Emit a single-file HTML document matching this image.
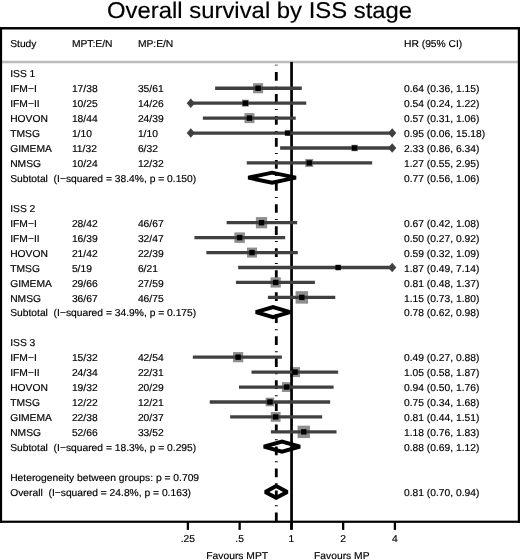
<!DOCTYPE html>
<html><head><meta charset="utf-8"><title>Overall survival by ISS stage</title>
<style>
html,body{margin:0;padding:0;background:#fff;}
body{width:520px;height:560px;overflow:hidden;}
svg{display:block;font-family:"Liberation Sans",Arial,Helvetica,sans-serif;font-size:10.0px;fill:#000;text-rendering:geometricPrecision;}
text{stroke:#000;stroke-width:0.17px;}
</style></head><body>
<svg width="520" height="560" viewBox="0 0 520 560">
<rect width="520" height="560" fill="#fff"/>
<text transform="scale(1.047,1)" x="247.95" y="17.85" text-anchor="middle" font-size="22.8" fill="#000">Overall survival by ISS stage</text>
<line x1="2" y1="61.95" x2="518" y2="61.95" stroke="#bcbcbc" stroke-width="2.5"/>
<g stroke="#000" stroke-width="2.8" stroke-dasharray="8.7 6.15 1 6.175"><line x1="276.3" y1="72" x2="276.3" y2="521"/></g>
<rect x="274.9" y="64.6" width="2.8" height="1" fill="#555"/>
<g fill="#8e8e8e">
<rect x="253.03" y="83.19" width="10.1" height="10.1"/>
<rect x="241.90" y="99.68" width="7" height="7"/>
<rect x="244.43" y="113.12" width="10" height="10"/>
<rect x="351.30" y="144.75" width="6.5" height="6.5"/>
<rect x="305.24" y="158.94" width="8" height="8"/>
<rect x="255.88" y="217.08" width="11.25" height="11.25"/>
<rect x="234.40" y="232.39" width="10.5" height="10.5"/>
<rect x="247.01" y="247.58" width="10" height="10"/>
<rect x="270.54" y="277.33" width="10.25" height="10.25"/>
<rect x="295.58" y="291.15" width="12.5" height="12.5"/>
<rect x="233.04" y="352.06" width="10.2" height="10.2"/>
<rect x="290.04" y="367.10" width="10" height="10"/>
<rect x="281.88" y="382.14" width="9.8" height="9.8"/>
<rect x="265.62" y="397.68" width="8.6" height="8.6"/>
<rect x="270.77" y="412.02" width="9.8" height="9.8"/>
<rect x="297.56" y="425.66" width="12.4" height="12.4"/>
</g>
<line x1="291.55" y1="62" x2="291.55" y2="529.6" stroke="#000" stroke-width="2.7"/>
<g stroke="#404040" stroke-width="3.3">
<line x1="215.12" y1="88.24" x2="301.83" y2="88.24"/>
<line x1="190.80" y1="103.18" x2="306.25" y2="103.18"/>
<line x1="202.87" y1="118.12" x2="295.75" y2="118.12"/>
<line x1="190.80" y1="133.06" x2="392.20" y2="133.06"/>
<line x1="280.14" y1="148.00" x2="392.20" y2="148.00"/>
<line x1="246.77" y1="162.94" x2="372.17" y2="162.94"/>
<line x1="226.63" y1="222.70" x2="297.15" y2="222.70"/>
<line x1="194.44" y1="237.64" x2="285.17" y2="237.64"/>
<line x1="206.33" y1="252.58" x2="297.83" y2="252.58"/>
<line x1="238.14" y1="267.52" x2="392.20" y2="267.52"/>
<line x1="235.95" y1="282.46" x2="314.90" y2="282.46"/>
<line x1="267.90" y1="297.40" x2="335.28" y2="297.40"/>
<line x1="192.84" y1="357.16" x2="281.86" y2="357.16"/>
<line x1="251.52" y1="372.10" x2="338.13" y2="372.10"/>
<line x1="239.01" y1="387.04" x2="333.61" y2="387.04"/>
<line x1="209.75" y1="401.98" x2="330.13" y2="401.98"/>
<line x1="230.11" y1="416.92" x2="322.17" y2="416.92"/>
<line x1="270.91" y1="431.86" x2="336.52" y2="431.86"/>
</g>
<g fill="#404040">
<polygon points="186.70,103.18 190.80,98.38 194.90,103.18 190.80,107.98"/>
<polygon points="186.70,133.06 190.80,128.26 194.90,133.06 190.80,137.86"/>
<polygon points="388.10,133.06 392.20,128.26 396.30,133.06 392.20,137.86"/>
<polygon points="388.10,148.00 392.20,143.20 396.30,148.00 392.20,152.80"/>
<polygon points="388.10,267.52 392.20,262.72 396.30,267.52 392.20,272.32"/>
</g>
<g fill="#000">
<rect x="255.38" y="85.54" width="5.4" height="5.4"/>
<rect x="242.70" y="100.48" width="5.4" height="5.4"/>
<rect x="246.73" y="115.42" width="5.4" height="5.4"/>
<rect x="284.87" y="130.36" width="5.4" height="5.4"/>
<rect x="351.85" y="145.30" width="5.4" height="5.4"/>
<rect x="306.54" y="160.24" width="5.4" height="5.4"/>
<rect x="258.80" y="220.00" width="5.4" height="5.4"/>
<rect x="236.95" y="234.94" width="5.4" height="5.4"/>
<rect x="249.31" y="249.88" width="5.4" height="5.4"/>
<rect x="335.43" y="264.82" width="5.4" height="5.4"/>
<rect x="272.97" y="279.76" width="5.4" height="5.4"/>
<rect x="299.13" y="294.70" width="5.4" height="5.4"/>
<rect x="235.44" y="354.46" width="5.4" height="5.4"/>
<rect x="292.34" y="369.40" width="5.4" height="5.4"/>
<rect x="284.08" y="384.34" width="5.4" height="5.4"/>
<rect x="267.22" y="399.28" width="5.4" height="5.4"/>
<rect x="272.97" y="414.22" width="5.4" height="5.4"/>
<rect x="301.06" y="429.16" width="5.4" height="5.4"/>
</g>
<polygon points="248.26,177.68 272.04,172.63 295.90,177.68 272.04,182.73" fill="none" stroke="#000" stroke-width="3.9" stroke-linejoin="miter" stroke-miterlimit="1.8"/>
<polygon points="255.86,312.14 273.00,307.09 290.04,312.14 273.00,317.19" fill="none" stroke="#000" stroke-width="3.9" stroke-linejoin="miter" stroke-miterlimit="1.8"/>
<polygon points="263.85,446.60 282.01,441.55 300.01,446.60 282.01,451.65" fill="none" stroke="#000" stroke-width="3.9" stroke-linejoin="miter" stroke-miterlimit="1.8"/>
<polygon points="265.27,491.92 276.17,486.02 287.28,491.92 276.17,497.82" fill="none" stroke="#000" stroke-width="3.9" stroke-linejoin="miter" stroke-miterlimit="1.8"/>
<rect x="0" y="27.05" width="520" height="2.45" fill="#000"/>
<rect x="0" y="520.65" width="520" height="2.2" fill="#000"/>
<rect x="0" y="27.05" width="2.1" height="495.8" fill="#000"/>
<rect x="517.8" y="27.05" width="2.2" height="495.8" fill="#000"/>
<line x1="187.90" y1="521" x2="187.90" y2="529.9" stroke="#000" stroke-width="2.3"/>
<line x1="239.65" y1="521" x2="239.65" y2="529.9" stroke="#000" stroke-width="2.3"/>
<line x1="291.40" y1="521" x2="291.40" y2="529.9" stroke="#000" stroke-width="2.3"/>
<line x1="343.15" y1="521" x2="343.15" y2="529.9" stroke="#000" stroke-width="2.3"/>
<line x1="394.90" y1="521" x2="394.90" y2="529.9" stroke="#000" stroke-width="2.3"/>
<g transform="scale(1.028,1)">
<text x="9.92" y="47.4">Study</text>
<text x="69.94" y="47.4">MPT:E/N</text>
<text x="134.14" y="47.4">MP:E/N</text>
<text x="393.00" y="47.4">HR (95% CI)</text>
<text x="9.92" y="77.40">ISS 1</text>
<text x="9.92" y="92.34">IFM−I</text>
<text x="69.94" y="92.34">17/38</text>
<text x="134.14" y="92.34">35/61</text>
<text x="393.00" y="92.34">0.64 (0.36, 1.15)</text>
<text x="9.92" y="107.28">IFM−II</text>
<text x="69.94" y="107.28">10/25</text>
<text x="134.14" y="107.28">14/26</text>
<text x="393.00" y="107.28">0.54 (0.24, 1.22)</text>
<text x="9.92" y="122.22">HOVON</text>
<text x="69.94" y="122.22">18/44</text>
<text x="134.14" y="122.22">24/39</text>
<text x="393.00" y="122.22">0.57 (0.31, 1.06)</text>
<text x="9.92" y="137.16">TMSG</text>
<text x="69.94" y="137.16">1/10</text>
<text x="134.14" y="137.16">1/10</text>
<text x="393.00" y="137.16">0.95 (0.06, 15.18)</text>
<text x="9.92" y="152.10">GIMEMA</text>
<text x="69.94" y="152.10">11/32</text>
<text x="134.14" y="152.10">6/32</text>
<text x="393.00" y="152.10">2.33 (0.86, 6.34)</text>
<text x="9.92" y="167.04">NMSG</text>
<text x="69.94" y="167.04">10/24</text>
<text x="134.14" y="167.04">12/32</text>
<text x="393.00" y="167.04">1.27 (0.55, 2.95)</text>
<text x="9.92" y="181.98" xml:space="preserve">Subtotal  (I−squared = 38.4%, p = 0.150)</text>
<text x="393.00" y="181.98">0.77 (0.56, 1.06)</text>
<text x="9.92" y="211.86">ISS 2</text>
<text x="9.92" y="226.80">IFM−I</text>
<text x="69.94" y="226.80">28/42</text>
<text x="134.14" y="226.80">46/67</text>
<text x="393.00" y="226.80">0.67 (0.42, 1.08)</text>
<text x="9.92" y="241.74">IFM−II</text>
<text x="69.94" y="241.74">16/39</text>
<text x="134.14" y="241.74">32/47</text>
<text x="393.00" y="241.74">0.50 (0.27, 0.92)</text>
<text x="9.92" y="256.68">HOVON</text>
<text x="69.94" y="256.68">21/42</text>
<text x="134.14" y="256.68">22/39</text>
<text x="393.00" y="256.68">0.59 (0.32, 1.09)</text>
<text x="9.92" y="271.62">TMSG</text>
<text x="69.94" y="271.62">5/19</text>
<text x="134.14" y="271.62">6/21</text>
<text x="393.00" y="271.62">1.87 (0.49, 7.14)</text>
<text x="9.92" y="286.56">GIMEMA</text>
<text x="69.94" y="286.56">29/66</text>
<text x="134.14" y="286.56">27/59</text>
<text x="393.00" y="286.56">0.81 (0.48, 1.37)</text>
<text x="9.92" y="301.50">NMSG</text>
<text x="69.94" y="301.50">36/67</text>
<text x="134.14" y="301.50">46/75</text>
<text x="393.00" y="301.50">1.15 (0.73, 1.80)</text>
<text x="9.92" y="316.44" xml:space="preserve">Subtotal  (I−squared = 34.9%, p = 0.175)</text>
<text x="393.00" y="316.44">0.78 (0.62, 0.98)</text>
<text x="9.92" y="346.32">ISS 3</text>
<text x="9.92" y="361.26">IFM−I</text>
<text x="69.94" y="361.26">15/32</text>
<text x="134.14" y="361.26">42/54</text>
<text x="393.00" y="361.26">0.49 (0.27, 0.88)</text>
<text x="9.92" y="376.20">IFM−II</text>
<text x="69.94" y="376.20">24/34</text>
<text x="134.14" y="376.20">22/31</text>
<text x="393.00" y="376.20">1.05 (0.58, 1.87)</text>
<text x="9.92" y="391.14">HOVON</text>
<text x="69.94" y="391.14">19/32</text>
<text x="134.14" y="391.14">20/29</text>
<text x="393.00" y="391.14">0.94 (0.50, 1.76)</text>
<text x="9.92" y="406.08">TMSG</text>
<text x="69.94" y="406.08">12/22</text>
<text x="134.14" y="406.08">12/21</text>
<text x="393.00" y="406.08">0.75 (0.34, 1.68)</text>
<text x="9.92" y="421.02">GIMEMA</text>
<text x="69.94" y="421.02">22/38</text>
<text x="134.14" y="421.02">20/37</text>
<text x="393.00" y="421.02">0.81 (0.44, 1.51)</text>
<text x="9.92" y="435.96">NMSG</text>
<text x="69.94" y="435.96">52/66</text>
<text x="134.14" y="435.96">33/52</text>
<text x="393.00" y="435.96">1.18 (0.76, 1.83)</text>
<text x="9.92" y="450.90" xml:space="preserve">Subtotal  (I−squared = 18.3%, p = 0.295)</text>
<text x="393.00" y="450.90">0.88 (0.69, 1.12)</text>
<text x="9.92" y="480.78">Heterogeneity between groups: p = 0.709</text>
<text x="9.92" y="495.72" xml:space="preserve">Overall  (I−squared = 24.8%, p = 0.163)</text>
<text x="393.00" y="495.72">0.81 (0.70, 0.94)</text>
<text x="182.78" y="541.9" text-anchor="middle">.25</text>
<text x="233.12" y="541.9" text-anchor="middle">.5</text>
<text x="283.46" y="541.9" text-anchor="middle">1</text>
<text x="333.80" y="541.9" text-anchor="middle">2</text>
<text x="384.14" y="541.9" text-anchor="middle">4</text>
<text x="230.74" y="559" text-anchor="middle">Favours MPT</text>
<text x="332.49" y="559" text-anchor="middle">Favours MP</text>
</g>
</svg>
</body></html>
